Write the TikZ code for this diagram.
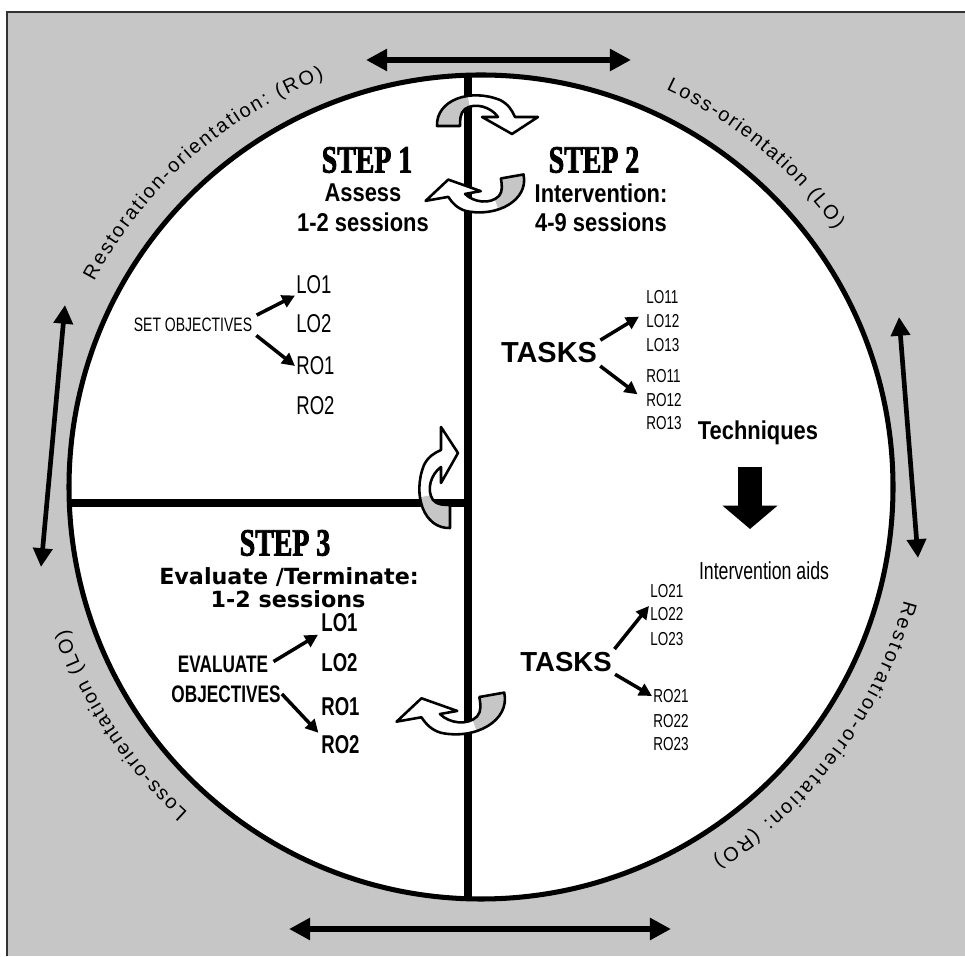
\documentclass[tikz,border=0pt]{standalone}
\usepackage{fontspec}
\setmainfont{Liberation Sans}
\newfontfamily\narrowfont{Liberation Sans}[FakeStretch=0.72]
\newfontfamily\semifont{Liberation Sans}[FakeStretch=0.85]
\newfontfamily\stepfont{Liberation Serif}[FakeStretch=0.72,FakeBold=2]
\newfontfamily\widefont{DejaVu Sans}
\usetikzlibrary{arrows.meta,decorations.text}
\definecolor{bggray}{HTML}{C6C6C6}
\newcommand{\fsz}[1]{\fontsize{#1}{#1}\selectfont}
\newcommand{\ringfont}{\fontsize{17}{18}\selectfont}
\tikzset{
  turnstyle/.style={draw=black,line width=2.2pt,line join=round},
  turnshape/.style={insert path={(-50,-10) .. controls (-51,16) and (-17,28) .. (13,16)
      .. controls (21,12) and (25,6) .. (28,-1) -- (51,-1) -- (25,-18) -- (-5,-1) -- (11,-1)
      .. controls (4,9) and (-12,14) .. (-22,7) .. controls (-27,3) and (-27,-4) .. (-27,-10) -- cycle}},
  pics/turnarrow/.style={code={
    \fill[white,turnshape];
    \begin{scope}
    \clip[turnshape];
    \fill[bggray] (-60,-20) -- (-60,35) -- (-22,35) -- (-12,-20) -- cycle;
    \end{scope}
    \draw[turnstyle,turnshape];
  }},
}
\begin{document}
\begin{tikzpicture}[x=0.03cm,y=0.03cm,
  bigarrow/.style={line width=4.5pt,{Triangle[length=18pt,width=18pt]}-{Triangle[length=18pt,width=18pt]}},
  sidearrow/.style={line width=4pt,{Triangle[length=16pt,width=16pt]}-{Triangle[length=16pt,width=16pt]}},
  smallarrow/.style={line width=3pt,-{Triangle[length=11pt,width=11pt]}},
  blockarrow/.style={line width=21pt,-{Triangle[length=20pt,width=46pt]}},
  ringtext/.style={decorate,decoration={text along path,text align={fit to path},text={#1}}}]
	\useasboundingbox (0,0) rectangle (965,956);
	\fill[white] (0,0) rectangle (965,956);
	\fill[bggray] (7,0) rectangle (965,944);
	\draw[line width=1.2pt,black!80] (7,0) -- (7,944) -- (965,944);

	% the wheel and its quarters
	\coordinate (C) at (481,469);
	\draw[line width=4.3pt,fill=white] (C) circle[radius=412];
	\coordinate (vtop) at (468,881);
	\coordinate (vbot) at (468,57);
	\coordinate (hleft) at (69.5,453);
	\coordinate (hmid) at (468,453);
	\draw[line width=6pt] (vtop) -- (vbot);
	\draw[line width=6.8pt] (hleft) -- (hmid);

	% turning arrows
	\pic at (487,840) {turnarrow};
	\pic[rotate=190] at (476,763) {turnarrow};
	\pic[rotate=90] at (440,478) {turnarrow};
	\pic[rotate=190,scale=1.1] at (452,243) {turnarrow};

	% outer arrows
	\coordinate (topL) at (366,896);
	\coordinate (topR) at (631,896);
	\coordinate (botL) at (289,27);
	\coordinate (botR) at (671,27);
	\coordinate (leftT) at (65,651);
	\coordinate (leftB) at (41,389);
	\coordinate (rightT) at (899,639);
	\coordinate (rightB) at (918,398);
	\draw[bigarrow] (topL) -- (topR);
	\draw[bigarrow] (botL) -- (botR);
	\draw[sidearrow] (leftT) -- (leftB);
	\draw[sidearrow] (rightT) -- (rightB);

	% texts round the wheel
	\path[ringtext={|\ringfont|Restoration-orientation: (RO)}] (C) ++(152:438) arc[start angle=152,end angle=111,radius=438];
	\path[ringtext={|\ringfont|Loss-orientation (LO)}] (C) ++(65:438) arc[start angle=65,end angle=36,radius=438];
	\path[ringtext={|\ringfont|Restoration-orientation: (RO)}] (C) ++(-15:438) arc[start angle=-15,end angle=-58,radius=438];
	\path[ringtext={|\ringfont|Loss-orientation (LO)}] (C) ++(228:438) arc[start angle=228,end angle=199,radius=438];

	% headings
	\begin{scope}[every node/.style={inner sep=1pt,align=center}]
	\node[font=\stepfont\bfseries\fsz{33}] (step1) at (367,796) {STEP 1};
	\node[font=\semifont\bfseries\fsz{22}] (assess) at (363,763) {Assess};
	\node[font=\semifont\bfseries\fsz{22}] (sess1) at (363,734) {1-2 sessions};
	\node[font=\stepfont\bfseries\fsz{33}] (step2) at (594,796) {STEP 2};
	\node[font=\semifont\bfseries\fsz{22}] (interv) at (601,763) {Intervention:};
	\node[font=\semifont\bfseries\fsz{22}] (sess2) at (601,734) {4-9 sessions};
	\node[font=\stepfont\bfseries\fsz{33}] (step3) at (285,413) {STEP 3};
	\node[font=\widefont\bfseries\fsz{19}] (evalterm) at (289,379) {Evaluate /Terminate:};
	\node[font=\widefont\bfseries\fsz{19}] (sess3) at (288,357) {1-2 sessions};
	\end{scope}

	% step 1 objectives
	\begin{scope}[every node/.style={inner sep=1pt,font=\narrowfont\fsz{22},anchor=west}]
	\node[font=\narrowfont\fsz{16.6},anchor=center] (setobj) at (193,631) {SET OBJECTIVES};
	\node (lo1) at (295,671) {LO1};
	\node (lo2) at (295,632) {LO2};
	\node (ro1) at (295,590) {RO1};
	\node (ro2) at (295,550) {RO2};
	\end{scope}
	\draw[smallarrow,shorten <=3pt] (setobj.north east) -- (lo1.south west);
	\draw[smallarrow,shorten <=3pt] (setobj.south east) -- (ro1.west);

	% step 2 tasks
	\begin{scope}[every node/.style={inner sep=1pt,font=\narrowfont\fsz{16},anchor=west}]
	\node[font=\bfseries\fsz{24.7},anchor=center] (tasks1) at (549,603) {TASKS};
	\node (lo11) at (645,659) {LO11};
	\node (lo12) at (645,635) {LO12};
	\node (lo13) at (645,611) {LO13};
	\node (ro11) at (645,580) {RO11};
	\node (ro12) at (645,556) {RO12};
	\node (ro13) at (645,533) {RO13};
	\node[font=\bfseries\fsz{23.5},anchor=center] (tasks2) at (566,294) {TASKS};
	\node (lo21) at (649,365) {LO21};
	\node (lo22) at (649,342) {LO22};
	\node (lo23) at (649,317) {LO23};
	\node (ro21) at (652,260) {RO21};
	\node (ro22) at (652,235) {RO22};
	\node (ro23) at (652,212) {RO23};
	\end{scope}
	\draw[smallarrow,shorten <=2pt,shorten >=6pt] (tasks1.north east) -- (lo12.north west);
	\draw[smallarrow,shorten <=2pt,shorten >=8pt] (tasks1.south east) -- (ro12.west);
	\draw[smallarrow,shorten <=2pt] (tasks2.north east) -- (lo22.north west);
	\draw[smallarrow,shorten <=2pt] (tasks2.south east) -- (ro21.west);

	% techniques
	\node[inner sep=1pt,font=\semifont\bfseries\fsz{22}] (techniques) at (758,523) {Techniques};
	\node[inner sep=1pt,font=\narrowfont\fsz{21}] (aids) at (764,385) {Intervention aids};
	\coordinate (dtop) at (750,489);
	\coordinate (dbot) at (750,427);
	\draw[blockarrow] (dtop) -- (dbot);

	% step 3 evaluation
	\begin{scope}[every node/.style={inner sep=1pt,font=\narrowfont\bfseries\fsz{22},anchor=west}]
	\node[font=\narrowfont\bfseries\fsz{20.4},anchor=center] (evaluate) at (223,292) {EVALUATE};
	\node[font=\narrowfont\bfseries\fsz{20.4},anchor=center] (objectives) at (226,262) {OBJECTIVES};
	\node (slo1) at (320,333) {LO1};
	\node (slo2) at (320,293) {LO2};
	\node (sro1) at (320,249) {RO1};
	\node (sro2) at (320,211) {RO2};
	\end{scope}
	\draw[smallarrow,shorten <=4pt,shorten >=2pt] (evaluate.east) -- (slo1.south west);
	\draw[smallarrow,shorten >=2pt] (objectives.east) -- (sro2.north west);
\end{tikzpicture}
\end{document}
